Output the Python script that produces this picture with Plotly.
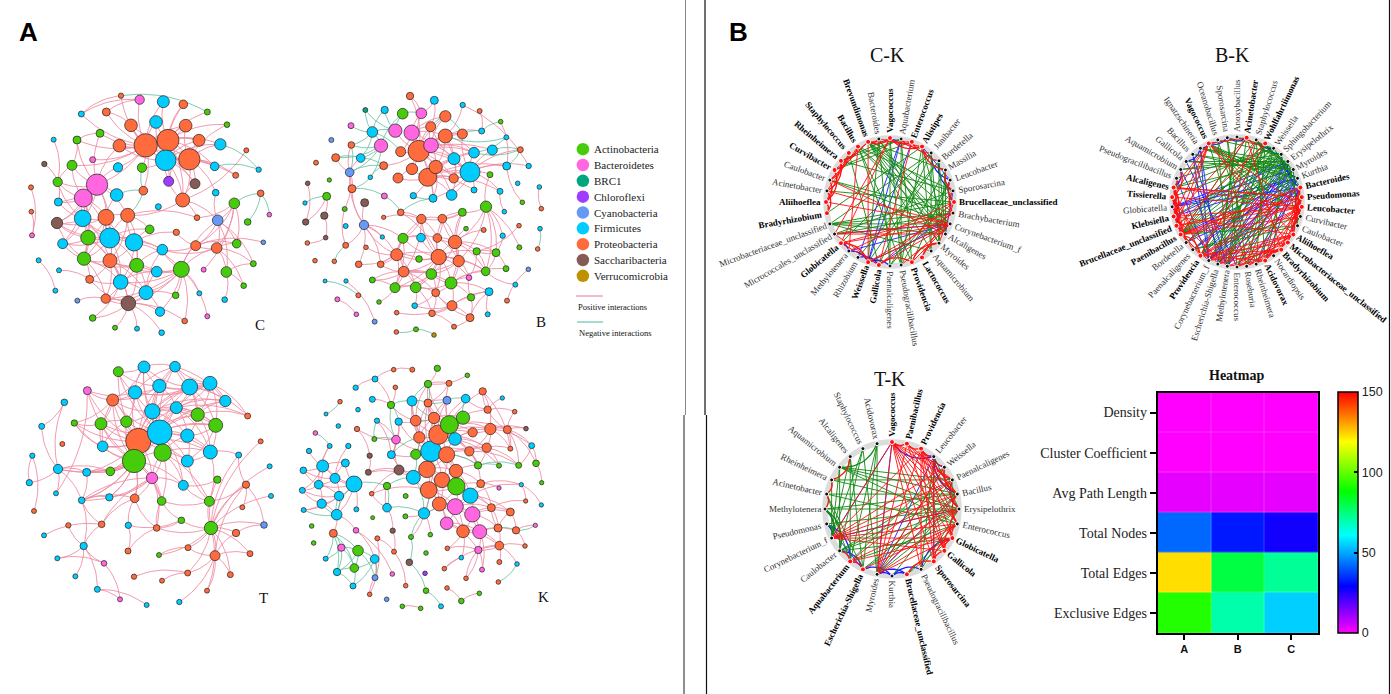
import math
import plotly.graph_objects as go

W, H = 1391, 694

PHYLA = ["Actinobacteria", "Bacteroidetes", "BRC1", "Chloroflexi", "Cyanobacteria",
         "Firmicutes", "Proteobacteria", "Saccharibacteria", "Verrucomicrobia"]
PHYLA_CODE = ["A", "B", "R", "L", "Y", "F", "P", "S", "V"]
PHYLA_COLOR = ["#46cc0a", "#ff66e0", "#00a67e", "#a03cff", "#6699f5",
               "#00ccff", "#ff6b3d", "#855c55", "#bf9000"]
PINK = "#ec7590"
TEAL = "#4fb994"

# network C: layout position, node diameter, phylum
C_X = [437,504,497,568,291,250,329,402,318,248, 383,264,548,544,410,330,252,362,438,385,
       350,393,468,557,597,661,358,490,550,419, 319,244,363,622,681,300,231,161,278,216,
       133,354,426,506,585,644,707,739,776,173, 93,175,94,171,96,430,475,647,703,782,
       808,743,591,653,449,529,188,487,587,650, 710,790,760,116,177,269,470,611,679,731,
       166,232,317,527,598,674,480,278,345,411, 485,554,622]
C_Y = [256,241,301,298,374,414,534,547,472,475, 466,533,420,628,616,602,596,666,698,730,
       405,196,186,197,241,253,257,125,133,119, 156,162,107,156,194,220,240,239,299,316,
       312,322,323,364,371,319,346,271,329,366, 382,426,455,489,526,392,440,398,430,400,
       464,486,473,481,508,517,551,569,557,564, 551,547,611,601,631,658,635,629,636,677,
       692,722,716,706,700,719,755,774,803,806, 818,783,769]
C_D = [70,66,62,64,64,54,60,52,48,50, 42,44,42,48,42,42,40,44,42,44,
       38,38,38,38,36,34,38,36,26,28, 24,18,16,18,17,24,24,15,18,30,
       16,28,28,30,30,26,18,15,16,28, 15,24,14,34,15,26,18,20,32,20,
       14,20,17,32,26,19,30,32,30,32, 26,14,18,15,15,24,32,15,32,17,
       15,15,28,20,15,17,28,20,15,15, 17,17,15]
C_P = list("PPFPBBFFPF" "PAPAAPAFFS" "FPFPPFPFPB" "PFPAAAAFBA" "SFALSFPPFA"
           "PFPSBPFFAP" "BAPYAPFFPP" "AYAFFPFBAA" "FYPAFFFAAF" "FPB")
C_POS = [(0,[1,2,3,21,22,23,26,27,29,30,35,36,41,42,43,55,24,38,39,4,31,32,44]),
         (1,[2,3,21,22,23,24,25,27,28,45,43,12,26,33,34]),
         (2,[3,21,22,23,24,25,28,45,46,12,44,43,26,42]),
         (3,[23,24,25,45,46,12,44,57,34]),
         (4,[5,8,9,20,39,41,49,53,51,36,35,26,10,6]),
         (5,[8,9,11,49,51,53,39,66,16,6]),
         (6,[7,8,9,10,11,15,16,64,53,66,14,17,67]),
         (7,[8,9,10,15,64,14,67,65,13,17]),
         (8,[9,10,11,15,16,53,20]),
         (9,[11,15,16,53,51,66,49]),
         (10,[15,14,64,62]),
         (11,[15,16,53,66,17]),
         (12,[62,44,43,63,10]),
         (13,[14,15,17,18,19,68,69,76,67,83,84,91,63,92,82,86]),
         (14,[15,16,17,18,19,67,76]),
         (15,[16,17,18,19,75,82]),
         (16,[17,66,75,53,82]),
         (17,[18,19,82,75,76,87]),
         (18,[19,76,82,86,83,67]),
         (19,[82,87,88,89,90,86,91,75]),
         (58,[63,70,68,62,69,77]),
         (63,[69,70,68,72,78,57]),
         (69,[78,70,68,79,72,67]),
         (68,[67,65,70,71]),
         (78,[79,85,72]),
         (47,[12]), (30,[21,29]), (31,[32,29]), (37,[49]), (40,[49]), (50,[54]), (52,[54]),
         (73,[80]), (74,[75]), (81,[82]), (36,[39,35]), (49,[39,51])]
C_NEG = [(32,[33]), (25,[48]), (45,[48]), (58,[59]), (59,[61,60]), (20,[55]), (55,[42,10])]

# network B
B_X = [386,413,540,365,316,273,423,466,366,437, 492,324,332,247,394,338,422,466,517,552,
       607,485,429,491,588,284,226,183,124,184, 212,137,179,78,281,241,186,118,53,110,
       45,283,224,370,164,103,47,332,281,222, 167,107,52,394,457,517,528,581,638,339,
       393,442,495,277,228,167,75,133,206,272, 320,387,446,506,560,618,688,743,750,687,
       643,754,697,748,630,683,552,600,650,716, 691,649,575,632,569,518,433,360,341,424,
       483,587,648,715,537,247,315,377,437,105, 168,205,142,199,254,267,320,374,426,486,
       543,597,676,651,593,540,492,378,319,432]
B_Y = [243,322,306,188,182,227,226,198,297,291, 266,324,245,186,130,131,170,139,192,248,
       240,375,385,325,410,120,120,167,210,225, 264,263,307,278,287,322,356,330,340,379,
       399,378,398,377,417,437,456,427,442,465, 468,503,519,447,446,427,476,480,497,505,
       503,504,516,501,532,526,572,574,583,583, 554,567,561,573,544,548,532,537,476,467,
       425,416,397,351,364,340,360,314,288,288, 239,202,183,155,123,105,91,78,605,612,
       639,604,596,598,623,630,653,652,668,633, 633,676,688,733,755,696,728,707,730,707,
       682,665,644,692,733,743,770,778,786,795]
B_D = [64,54,60,46,40,40,44,42,34,40, 36,30,30,32,32,32,30,34,30,32,
       30,32,24,28,34,22,15,18,15,20, 26,24,26,15,24,14,24,13,14,24,
       13,18,24,19,15,22,19,20,13,28, 15,14,14,28,26,24,14,15,16,30,
       26,26,40,13,14,18,14,14,20,20, 36,20,46,34,22,24,15,14,14,14,
       14,14,14,14,18,14,18,18,24,16, 18,15,18,14,15,16,24,22,32,32,
       36,26,18,14,17,18,30,32,24,12, 13,15,15,14,15,14,14,17,20,30,
       22,24,15,15,15,24,15,15,14,14]
B_P = list("PPFBBBBPPP" "FPPFBAPPPF" "FFFPAFRBYP" "FPYPPFPASA" "FBSFASSPPY"
           "FSPPPAAPFA" "FPPFPPPPPP" "PAPPAAAPFP" "FPAFFFFAFF" "PFFAPFFPPA"
           "AAAYBAAAPF" "FPBBYAPFPP" "AFFPFPPAPV")
B_POS = [(0,[1,3,4,6,7,8,9,10,11,12,14,16,17,18,19,2,21,22,23,34,20]),
         (1,[2,8,9,10,11,21,22,23,43,86,84,19,88]),
         (2,[7,9,10,18,19,20,21,22,23,86,87,88,90,84,16,89]),
         (3,[6,7,12,14,16,17]), (6,[7,16,17,9,10,19]), (7,[9,10,18,19,92]),
         (9,[10,22,23]), (10,[19,21,23]),
         (72,[53,54,59,61,62,70,71,73,74,98,99,100,101,60,104,106,107,108]),
         (62,[55,54,61,73,74,75,99,100,101,56,57]),
         (70,[53,59,68,69,98,106,107,64,71,73,49]),
         (73,[98,99,100,101,55,104]),
         (98,[99,100,106,107,105,69,108]),
         (100,[99,104,107,108,119,120,121,101,102]),
         (99,[106,107,108]),
         (119,[108,118,120,121,125,117,116]),
         (120,[121,125,104]),
         (24,[55,62,75,87,76,73,58,101]),
         (55,[54,53]),
         (49,[42,36,32,59,69,70,68,65,63]),
         (32,[30,29,31,36,44]),
         (97,[14,0]), (96,[16,14]), (95,[7,89]), (94,[92]), (93,[88]), (80,[84]), (82,[88]),
         (81,[83]), (123,[103]), (39,[46,45]), (38,[46]), (45,[51]), (51,[52]), (110,[114]),
         (112,[113]), (65,[44]), (47,[53,72]), (48,[53]), (118,[126]), (124,[121]),
         (75,[74,102,101]), (79,[74]), (58,[75]), (122,[101]),
         (53,[54,59,61,98]), (54,[61,62,55]), (59,[60,61,69,106]), (61,[62,73]), (74,[75,101,104]),
         (105,[106,98]), (106,[107,115]), (107,[108,117,118]), (108,[117,118]), (125,[121,126,108])]
B_NEG = [(13,[25,26,4,5,27,29,30,12]), (5,[15,30,29,31,32,35]), (4,[15,26,25]),
         (15,[14]), (16,[17]), (17,[18]), (91,[19,7]), (90,[19,88]), (92,[93]),
         (35,[36,34]), (36,[41]), (41,[47]), (47,[22]), (22,[43]), (32,[34]), (31,[30]),
         (29,[32]), (30,[34]), (78,[77]), (40,[39]), (109,[111]), (127,[128,129]),
         (67,[65]), (20,[90]), (18,[92])]

# network T
T_X = [415,479,402,488,457,569,630,478,405,432, 525,355,262,338,529,593,676,743,647,562,
       631,562,379,303,223,193,125,187,308,97, 174,260,331,456,550,88,168,245,328,404,
       485,102,205,305,385,470,544,628,652,716, 782,809,738,813,727,633,792,708,750,564,
       645,477,384,132,251,172,312,226,563,691, 402,486,621,292,360,440,538]
T_Y = [273,247,333,308,184,111,100,108,127,51, 50,65,122,150,173,194,153,198,226,257,
       306,333,215,221,219,157,229,282,289,317, 357,367,364,384,406,398,430,451,442,445,
       453,483,526,523,526,534,511,454,389,315, 274,349,404,438,472,534,525,549,611,593,
       617,615,603,556,588,625,640,679,669,674, 680,692,722,718,748,765,756]
T_D = [76,74,70,52,46,48,42,40,40,36, 32,30,24,36,36,40,34,18,42,40,
       42,36,34,36,19,20,18,15,32,16, 28,24,26,34,30,19,15,20,22,26,
       26,15,16,20,19,20,20,30,22,18, 15,15,22,15,15,40,20,22,18,18,
       30,15,18,15,22,15,17,15,18,18, 16,15,15,18,15,15,16]
T_P = list("PFAAFFFFFF" "FABPFAFPAF" "FFAAAFFPFF" "FFABFFFFFP" "APPPFPAAAF"
           "PFPFPAYPPP" "PAPFFFBFPP" "PPPFBFF")
T_POS = [(0,[1,2,3,4,5,7,8,13,14,15,19,22,23,24,28,32,11,12,31,33,21,18,20]),
         (1,[2,3,4,5,6,7,8,10,13,14,15,16,18,19,20,21,22,23,28,34,11,9]),
         (2,[3,4,13,22,23,24,28,31,32,33,34,38,37,39,40,30,12]),
         (3,[4,14,19,21,33,34,40,47,20]),
         (4,[5,6,7,8,9,10,13,14,15,16,18,19,22]),
         (5,[6,7,8,9,10,14,15,16,17,18]),
         (6,[7,8,10,14,15,16,17,18]),
         (7,[8,9,10,11,13,14]),
         (8,[9,10,11,13,22,12]),
         (9,[10,11,13]), (10,[15,16]),
         (14,[15,16,17,18,19,20]), (15,[16,18,19,20,17]), (18,[19,20,21]), (19,[20,21]),
         (20,[21,49,47]), (13,[22,23,24,12]), (12,[36]),
         (30,[31,32,35,36,37,25,26]), (29,[41]), (35,[29]), (37,[64,38,39,33]),
         (33,[38,39,45]), (43,[39,33,37]), (44,[39]), (45,[39,40]), (46,[45,40,44]),
         (47,[40,34,21]), (48,[34]),
         (55,[47,46,45,48,49,50,51,52,53,56,57,58,59,60,61,68,69,72]),
         (60,[57,58,59,68,69,72,76,52]), (52,[47,54,56,49]), (57,[56]),
         (62,[45]), (63,[43]), (64,[42,43,65,67,73]), (65,[66]), (66,[74,64]),
         (73,[75,74]), (70,[68]), (71,[68]), (61,[59]), (44,[62]), (25,[26]),
         (2,[37,38,30,31,32,39,40]), (33,[37,40,34,3]), (28,[22,23,24,13]), (23,[24,22]), (31,[37,32])]
T_NEG = []

# network K
K_X = [423,445,478,470,411,370,327,456,498,499, 416,541,448,496,547,470,519,569,402,192,
       98,135,86,147,95,140,166,40,37,41, 57,119,175,145,76,108,150,197,247,204,
       255,311,367,316,303,442,532,414,477,414, 366,471,527,578,593,637,674,519,432,377,
       326,261,201,388,318,253,304,377,239,235, 495,548,601,652,708,538,590,661,725,564,
       627,686,738,755,694,707,754,627,572,604, 661,736,678,624,628,705,565,514,472,628,
       576,681,625,528,463,408,421,363,358,405, 346,291,291,347,245,199,248,308,262,312,
       198,130,65,71,154,204,254,107,141,193, 255,307,189,239,290,347,408,453,337,392,
       471,514,568]
K_Y = [304,254,224,314,358,382,360,390,363,409, 420,437,462,470,493,520,544,545,490,402,
       348,385,404,438,461,494,339,361,421,480, 303,288,288,228,249,192,155,113,148,179,
       87,59,59,112,165,55,76,102,100,159, 153,151,146,124,179,144,185,203,204,212,
       215,212,237,262,269,267,314,313,317,367, 267,247,237,239,236,304,293,296,287,346,
       347,346,340,398,404,453,465,414,401,473, 486,526,541,534,587,588,600,623,595,636,
       659,642,696,685,656,609,554,561,637,670, 499,473,408,438,431,478,503,542,565,605,
       541,550,528,579,593,602,627,626,666,654, 683,672,708,733,748,707,722,769,769,775,
       714,753,730]
K_D = [62,58,54,48,50,42,30,46,40,52, 50,46,42,48,46,38,38,42,34,48,
       36,30,26,28,28,32,24,20,18,15, 16,15,16,14,14,12,14,16,18,14,
       18,14,15,14,22,19,14,22,18,24, 30,24,26,22,22,13,14,40,34,32,
       22,16,16,34,26,15,24,30,16,18, 38,28,34,24,14,28,28,15,18,22,
       15,18,20,13,13,13,13,13,24,24, 24,13,22,24,26,14,22,14,14,15,
       15,14,14,14,14,14,14,15,20,14, 15,26,22,15,14,15,12,16,15,15,
       17,24,14,14,22,32,26,15,22,26, 18,14,18,14,14,14,17,15,14,14,
       14,17,14]
K_P = list("FPAPPFSPPA" "PFPBBBPBFF" "FFFFFFFFFF" "FFFFBFPFFF" "FPPPAAAAPP"
           "FYFPPFPAPP" "FFPPBAFASS" "FPPPSPPPFA" "AAAAFPFBPP" "PBPPPPBFPP"
           "BFPPPAAASL" "AFAAPFASPP" "BPAABAFFFA" "YBFPYPAFAA" "PAA")
K_POS = [(0,[1,3,4,5,7,8,9,10,63,67,66,58,59,70,49,75,50,64,60]),
         (1,[2,3,4,57,58,59,63,70,71,72,75,76,49,51,52]),
         (2,[57,58,70,71,72,73,49,47,48,51,53,54]),
         (3,[4,7,8,9,70,75,76,79]), (4,[5,6,7,8,9,10,12]), (7,[8,9,10,11,12]),
         (8,[9,11,79,88]), (9,[10,11,12,13,88,89]), (10,[5,12,13,18,15]),
         (11,[12,13,14,89,90]), (12,[13,15,16,18]), (13,[14,15,16,17,89]),
         (14,[16,17,90,93,89]), (15,[16,17,96]), (16,[17,94,97,98]), (17,[92,93,94,96,100]),
         (19,[21,22,23,26,25,20,115]), (20,[21,22,26,27,28,30,31]), (21,[22,23,26,27,32]),
         (22,[23,24,27,28,31]), (23,[24,25,28,29]), (24,[25,28,29]), (25,[120,121]),
         (72,[71,73,74,76,77,78,75]), (73,[74,77,78,81,82,56,54]), (54,[53,55,56,52]),
         (82,[83]), (78,[82,81]), (84,[85,86]), (93,[94,89,90]), (90,[92]), (94,[95,99,96,101]),
         (41,[42]), (40,[41,44]), (37,[40]), (43,[44]), (38,[44]),
         (61,[64,66]), (64,[66,62]), (62,[68]), (68,[69]), (69,[6,5]), (5,[66]), (6,[64]),
         (60,[64,66]), (111,[112,114,117]), (117,[119]), (118,[119]), (119,[135]),
         (120,[126,131]), (126,[130]), (133,[130]), (118,[133]), (98,[96]), (103,[96]),
         (104,[94,97]), (46,[47]), (47,[48]), (48,[49]), (45,[47]), (140,[141]), (141,[142]),
         (138,[139]), (114,[10,6]),
         (70,[57,71,72,75,76,79,80]), (75,[76,79,88,81]), (76,[79,80,81,77]), (63,[58,59,67,49,50]),
         (58,[59,49,47,51,57]), (59,[60,50,47,44]), (11,[88,84]), (18,[110,106,107]),
         (88,[89,84,87]), (89,[90,93,85]), (92,[91,95]), (96,[94,100,103]), (53,[72,77]), (49,[51])]
K_NEG = [(25,[24,23,19,29]), (121,[124,125,128,127,129]), (124,[125,127,128,129]),
         (125,[126,129,128,130]), (126,[129,130,132]), (128,[129,132]), (129,[132]),
         (108,[136]), (136,[137]), (36,[35]), (34,[31]), (19,[112]), (112,[5,111]), (111,[18]),
         (5,[18]), (107,[18,108]), (44,[60,50]), (50,[47,49]), (63,[67]), (66,[63]), (67,[5]),
         (65,[64,61]), (57,[52]), (51,[52,49]), (47,[49]), (79,[80,81]), (3,[79]),
         (101,[102]), (93,[92]), (91,[92]), (64,[44]), (58,[50,59]), (10,[18]), (12,[18])]

# differential networks, clockwise from the top
CK_LABELS = ["Vagococcus","Aquabacterium","Enterococcus","Alistipes","Janibacter","Bordetella",
             "Massilia","Leucobacter","Sporosarcina","Brucellaceae_unclassified","Brachybacterium",
             "Corynebacterium_f","Alcaligenes","Myroides","Aquamicrobium","Lactococcus","Providencia",
             "Pseudogracilibacillus","Paenalcaligenes","Gallicola","Weissella","Rhizobium","Methylotenera",
             "Globicatella","Micrococcales_unclassified","Microbacteriaceae_unclassified","Bradyrhizobium",
             "Aliihoeflea","Acinetobacter","Caulobacter","Curvibacter","Rheinheimera","Staphylococcus",
             "Bacillus","Brevundimonas","Bacteroides"]
CK_BOLD = [0,2,3,9,15,16,19,20,23,26,27,30,31,32,33,34]
CK_RED = [(34,29),(34,30),(33,28),(33,31),(32,30),(32,27),(31,29),(30,27),(27,26),(27,29),(26,28),
          (28,31),(34,0),(34,2),(0,3),(2,0),(1,3),(2,4),(35,3),(34,35),(0,24),(0,23),(34,20),(2,19),
          (33,22),(11,23),(11,24),(10,23),(9,22),(9,19),(11,20),(11,19),(10,20),(9,15),(9,13),(16,13),
          (15,13),(16,19),(19,23),(23,20),(24,19),(12,24),(11,16),(11,17),(8,10),(8,6),(9,7),(3,5),
          (3,6),(29,12),(27,11),(28,11)]
CK_GREEN = [(34,9),(34,10),(34,11),(34,12),(34,13),(34,6),(34,14),(33,12),(33,11),(33,16),(33,17),
            (33,8),(35,13),(35,12),(35,18),(35,20),(29,10),(29,11),(28,9),(25,11),(25,12),(25,10),
            (25,9),(25,14),(24,8),(24,10),(25,4),(23,4),(0,18),(0,17),(1,16),(1,17),(3,17),(3,14),
            (3,12),(4,13),(4,14),(5,12),(5,13),(6,12),(6,13),(30,1),(30,2),(31,0),(31,8),(31,1),
            (32,19),(26,3),(19,4),(20,5),(21,5),(16,7),(17,7),(18,6),(18,8)]
CK_BLUE = [(0,1),(1,21),(1,20),(2,20),(3,7),(4,7),(5,8),(7,9),(8,12),(11,24),(11,20),(11,22),
           (20,22),(23,22),(20,18),(21,19),(10,19)]

BK_LABELS = ["Anoxybacillus","Acinetobacter","Staphylococcus","Wohlfahrtiimonas","Weissella",
             "Sphingobacterium","Erysipelothrix","Myroides","Kurthia","Bacteroides","Pseudomonas",
             "Leucobacter","Curvibacter","Caulobacter","Aliihoeflea","Microbacteriaceae_unclassified",
             "Bradyrhizobium","Nocardiopsis","Acidovorax","Rheinheimera","Roseburia","Enterococcus",
             "Methylotenera","Escherichia-Shigella","Corynebacterium_f","Providencia","Paenalcaligenes",
             "Bordetella","Paenibacillus","Brucellaceae_unclassified","Klebsiella","Globicatella",
             "Tissierella","Alcaligenes","Pseudogracilibacillus","Aquamicrobium","Gallicola","Bacillus",
             "Ignatzschineria","Vagococcus","Oceanobacillus","Sporosarcina"]
BK_BOLD = [1,3,9,10,11,14,15,16,18,25,28,29,30,32,33,39]
BK_RED = [(39,33),(39,30),(39,28),(39,32),(39,29),(39,1),(1,3),(1,39),(1,30),(33,30),(33,29),(33,28),
          (32,30),(32,29),(32,28),(30,28),(30,29),(29,28),(33,27),(32,27),(30,26),(28,25),(29,25),
          (28,24),(33,25),(32,23),(30,22),(25,16),(25,15),(25,14),(25,18),(25,11),(25,10),(25,9),
          (28,9),(28,10),(28,11),(28,12),(29,11),(29,10),(30,11),(30,14),(32,11),(33,11),(33,10),
          (39,14),(39,15),(1,16),(1,28),(3,29),(3,25),(24,14),(24,11),(24,16),(23,16),(23,11),
          (23,14),(22,15),(22,18),(21,16),(21,14),(21,11),(20,14),(20,16),(19,15),(19,11),(18,14),
          (18,11),(18,16),(16,11),(16,9),(15,11),(15,10),(14,11),(14,10),(14,9),(11,9),(11,10),
          (10,9),(12,10),(13,10),(33,34),(32,35),(30,31),(31,33),(9,28),(11,39),(10,33),(25,2)]
BK_GREEN = [(39,10),(39,12),(39,13),(39,20),(39,9),(38,8),(38,7),(38,6),(37,7),(37,8),(36,6),(36,7),
            (35,6),(35,5),(34,4),(28,7),(28,6),(28,5),(28,4),(28,3),(28,2),(28,1),(28,13),(27,6),
            (27,7),(26,13),(26,12),(26,6),(25,3),(25,5),(25,6),(24,4),(24,5),(23,3),(23,8),(23,0),
            (22,2),(22,4),(21,5),(21,7),(20,6),(20,4),(19,3),(19,7),(18,6),(18,2),(17,5),(41,21),
            (41,20),(40,19),(40,22),(0,23),(0,4),(2,5),(2,7),(4,9),(5,13),(6,12),(7,13),(13,12),
            (1,22),(3,22),(41,4),(40,5),(33,4),(33,6),(32,5),(30,5),(29,4)]
BK_BLUE = [(38,23),(38,24),(37,24),(37,22),(36,21),(35,22),(34,24),(31,8),(31,7),(31,6),(31,9),
           (30,8),(30,6),(28,8),(27,5),(27,9),(26,8),(26,7),(25,7),(24,6),(24,7),(24,8),(24,9),
           (23,6),(23,7),(23,9),(22,8),(22,6),(21,8),(20,9),(19,8),(18,8),(41,39),(41,1),(0,1),
           (2,4),(3,5),(5,8),(6,9),(9,12),(12,14),(39,38),(38,36),(35,33),(32,31),(31,29)]

TK_LABELS = ["Vagococcus","Paenibacillus","Providencia","Leucobacter","Weissella","Paenalcaligenes",
             "Bacillus","Erysipelothrix","Enterococcus","Globicatella","Gallicola","Sporosarcina",
             "Pseudogracilibacillus","Brucellaceae_unclassified","Kurthia","Myroides",
             "Escherichia-Shigella","Aquabacterium","Caulobacter","Corynebacterium_f","Pseudomonas",
             "Methylotenera","Acinetobacter","Rheinheimera","Aquamicrobium","Alcaligenes",
             "Staphylococcus","Acidovorax"]
TK_BOLD = [0,1,2,9,10,11,13,16,17]
TK_RED = [(0,4),(0,5),(0,6),(0,7),(0,8),(0,9),(0,10),(0,11),(0,12),(0,1),(1,2),(1,5),(1,6),(1,8),
          (1,10),(2,3),(2,6),(2,7),(2,8),(2,9),(2,10),(2,11),(3,5),(4,6),(5,7),(6,8),(7,9),(8,9),
          (8,10),(9,10),(9,11),(10,11),(19,0),(19,2),(19,4),(19,5),(19,6),(19,7),(19,8),(19,9),
          (19,10),(15,0),(15,1),(15,2),(15,4),(15,6),(15,8),(15,9),(17,7),(17,9),(17,5),(16,8),
          (23,22),(23,25),(22,21),(12,2),(11,3),(13,11),(18,17),(17,16)]
TK_GREEN = [(27,15),(27,16),(27,17),(26,15),(26,18),(25,17),(25,16),(24,5),(24,6),(24,7),(24,8),
            (24,18),(23,5),(23,7),(23,19),(22,6),(22,8),(22,17),(22,16),(21,6),(21,7),(21,19),
            (21,18),(20,7),(20,18),(18,5),(18,6),(18,7),(18,9),(17,4),(17,8),(16,6),(16,7),(15,4),
            (15,5),(15,7),(14,6),(19,26),(19,24),(19,25),(13,8),(13,9),(12,7),(12,3),(6,4),(6,5),
            (7,3),(27,24)]
TK_BLUE = [(0,3),(2,3),(3,4),(3,5),(15,3),(15,0),(19,0),(19,7),(19,20),(21,19),(20,17),(18,16),
           (17,16),(16,14),(15,14),(14,12),(14,13),(13,15),(15,6),(6,3),(7,5),(11,3),(12,9),(20,16)]

# heatmap
HEAT_ROWS = ["Density", "Cluster Coefficient", "Avg Path Length", "Total Nodes", "Total Edges", "Exclusive Edges"]
HEAT_COLS = ["A", "B", "C"]
HEAT_Z = [[0, 0, 0], [0, 0, 0], [3, 3, 3], [42, 32, 27], [123, 81, 72], [92, 70, 55]]
HEAT_COLORS = [[0, "#ff00ff"], [29/150, "#0000ff"], [61/150, "#00ffff"],
               [88/150, "#00ff00"], [119/150, "#ffff00"], [1, "#ff0000"]]

# rough serif letter widths, to push rotated labels out past the ring
WIDE_REGULAR = dict(zip("abcdefghijklmnopqrstuvwxyz_-",
                        [.444,.5,.444,.5,.444,.333,.5,.5,.278,.278,.5,.278,.778,.5,.5,.5,.5,.333,.389,.278,.5,.5,.722,.5,.5,.444,.5,.333]))
WIDE_BOLD = dict(zip("abcdefghijklmnopqrstuvwxyz_-",
                     [.5,.556,.444,.556,.444,.333,.5,.556,.278,.333,.556,.278,.833,.556,.5,.556,.556,.444,.389,.333,.556,.5,.722,.5,.5,.444,.5,.333]))


def px(x):
    return x / W


def py(y):
    return 1 - y / H


def expand(groups):
    return [(a, b) for a, targets in groups for b in targets]


def label_width(text, size, is_bold):
    table = WIDE_BOLD if is_bold else WIDE_REGULAR
    return size * sum(table.get(ch, 0.68) for ch in text)


def curve_xy(xs, ys, pairs, bend, steps=12):
    # one quadratic curve per edge, None between them
    out_x, out_y = [], []
    for a, b in pairs:
        x0, y0, x1, y1 = xs[a], ys[a], xs[b], ys[b]
        cx = (x0 + x1) / 2 + bend * (y1 - y0)
        cy = (y0 + y1) / 2 - bend * (x1 - x0)
        for i in range(steps + 1):
            t = i / steps
            out_x.append((1-t)**2 * x0 + 2*t*(1-t) * cx + t**2 * x1)
            out_y.append((1-t)**2 * y0 + 2*t*(1-t) * cy + t**2 * y1)
        out_x.append(None)
        out_y.append(None)
    return out_x, out_y


fig = go.Figure()
layout = {}
axis_no = 0


def new_axes(left, top, right, bottom, xrange, yrange):
    global axis_no
    axis_no += 1
    n = "" if axis_no == 1 else str(axis_no)
    layout["xaxis" + n] = dict(domain=[px(left), px(right)], range=xrange, visible=False,
                               anchor="y" + n, fixedrange=True)
    layout["yaxis" + n] = dict(domain=[py(bottom), py(top)], range=yrange, visible=False,
                               anchor="x" + n, fixedrange=True)
    return "x" + n, "y" + n


def add_network(xs, ys, ds, ps, pos, neg, box, tag):
    assert len(xs) == len(ys) == len(ds) == len(ps), tag
    left, top, scale_w, scale_h = box
    xa, ya = new_axes(left, top, left + scale_w / 3, top + scale_h / 3, [0, scale_w], [scale_h, 0])
    for pairs, colour in [(expand(pos), PINK), (expand(neg), TEAL)]:
        if not pairs:
            continue
        ex, ey = curve_xy(xs, ys, pairs, 0.17)
        fig.add_trace(go.Scatter(x=ex, y=ey, mode="lines", xaxis=xa, yaxis=ya, hoverinfo="skip",
                                 line=dict(color=colour, width=0.85), opacity=0.85, showlegend=False))
    fig.add_trace(go.Scatter(x=xs, y=ys, mode="markers", xaxis=xa, yaxis=ya, showlegend=False,
                             marker=dict(size=[d / 3 for d in ds], opacity=1,
                                         color=[PHYLA_COLOR[PHYLA_CODE.index(p)] for p in ps],
                                         line=dict(color="#222222", width=0.7))))


add_network(C_X, C_Y, C_D, C_P, C_POS, C_NEG, (0, 60, 900, 870), "C")
add_network(B_X, B_Y, B_D, B_P, B_POS, B_NEG, (290, 70, 1200, 840), "B")
add_network(T_X, T_Y, T_D, T_P, T_POS, T_NEG, (0, 350, 870, 810), "T")
add_network(K_X, K_Y, K_D, K_P, K_POS, K_NEG, (290, 350, 810, 810), "K")

annotations = []
shapes = []


def note(x, y, text, size, family="Liberation Serif", color="#111111", bold=False, anchor="center"):
    annotations.append(dict(x=px(x), y=py(y), xref="paper", yref="paper", showarrow=False,
                            text="<b>%s</b>" % text if bold else text, xanchor=anchor, yanchor="middle",
                            font=dict(size=size, family=family, color=color)))


def add_chord(labels, bold, red, green, blue, cx, cy, radius):
    half = 140
    span = half / radius
    xa, ya = new_axes(cx - half, cy - half, cx + half, cy + half, [-span, span], [span, -span])
    n = len(labels)
    degs = [-90 + i * 360 / n for i in range(n)]
    xs = [math.cos(math.radians(d)) for d in degs]
    ys = [math.sin(math.radians(d)) for d in degs]
    shapes.append(dict(type="circle", xref=xa, yref=ya, x0=-1, x1=1, y0=-1, y1=1, layer="below",
                       line=dict(color="#dcdcdc", width=5.5)))
    for pairs, colour in [(blue, "#1a1aff"), (green, "#118811"), (red, "#ff1111")]:
        near, far = [], []
        for a, b in pairs:
            step = (b - a) % n
            if min(step, n - step) > 3:
                far.append((a, b))
            elif step <= n / 2:
                near.append((b, a))  # counterclockwise, so the curve bends into the circle
            else:
                near.append((a, b))
        ex, ey = curve_xy(xs, ys, far, 0, steps=1)
        fig.add_trace(go.Scatter(x=ex, y=ey, mode="lines", xaxis=xa, yaxis=ya, hoverinfo="skip",
                                 line=dict(color=colour, width=0.9), showlegend=False))
        ex, ey = curve_xy(xs, ys, near, 0.35)
        fig.add_trace(go.Scatter(x=ex, y=ey, mode="lines", xaxis=xa, yaxis=ya, hoverinfo="skip",
                                 line=dict(color=colour, width=1.3), showlegend=False))
    colours = ["#ff1111" if i in bold else "#111111" for i in range(n)]
    fig.add_trace(go.Scatter(x=xs, y=ys, mode="markers", xaxis=xa, yaxis=ya, showlegend=False,
                             marker=dict(size=[5 if i in bold else 4 for i in range(n)], color=colours, opacity=1)))
    for i, label in enumerate(labels):
        c, s = xs[i], ys[i]
        angle = degs[i] if c >= -1e-6 else degs[i] - 180
        is_bold = i in bold
        size = 9
        dist = (radius + 5 + label_width(label, size, is_bold) / 2) / radius
        annotations.append(dict(
            x=dist * c, y=dist * s, xref=xa, yref=ya, showarrow=False, textangle=angle,
            text="<b>%s</b>" % label if is_bold else label, xanchor="center", yanchor="middle",
            font=dict(size=size, family="Liberation Serif", color="#000000" if is_bold else "#333333")))


add_chord(CK_LABELS, CK_BOLD, CK_RED, CK_GREEN, CK_BLUE, 890, 202, 64)
add_chord(BK_LABELS, BK_BOLD, BK_RED, BK_GREEN, BK_BLUE, 1237, 202, 65)
add_chord(TK_LABELS, TK_BOLD, TK_RED, TK_GREEN, TK_BLUE, 892, 509, 67)

# heatmap with its colour bar
axis_no += 1
hx, hy = "x%d" % axis_no, "y%d" % axis_no
layout["xaxis%d" % axis_no] = dict(domain=[px(1157.5), px(1318)], anchor=hy, showline=True, mirror=True,
                                   linecolor="black", linewidth=1.5, ticks="outside", ticklen=5, tickwidth=1.5,
                                   tickcolor="black", fixedrange=True,
                                   tickfont=dict(family="Liberation Sans", size=11, color="#111111", weight="bold"))
layout["yaxis%d" % axis_no] = dict(domain=[py(633), py(392.5)], anchor=hx, autorange="reversed", showline=True,
                                   mirror=True, linecolor="black", linewidth=1.5, ticks="outside", ticklen=6,
                                   tickwidth=1.5, tickcolor="black", fixedrange=True,
                                   tickfont=dict(family="Liberation Serif", size=14, color="#222222"))
fig.add_trace(go.Heatmap(z=HEAT_Z, x=HEAT_COLS, y=HEAT_ROWS, xaxis=hx, yaxis=hy, zmin=0, zmax=150, xgap=0.2, ygap=0.2,
                         colorscale=HEAT_COLORS,
                         colorbar=dict(x=px(1338), xanchor="left", xpad=0, y=py(633), yanchor="bottom", ypad=0,
                                       lenmode="pixels", len=240.5, thicknessmode="pixels", thickness=20,
                                       outlinecolor="black", outlinewidth=1.5, tickvals=[0, 50, 100, 150],
                                       ticks="inside", ticklen=4, tickwidth=1.5, tickcolor="black",
                                       tickfont=dict(family="Liberation Sans", size=12.5, color="#222222"))))

# phylum legend
lx, ly = new_axes(570, 140, 600, 285, [0, 1], [len(PHYLA) - 0.42, -0.58])
fig.add_trace(go.Scatter(x=[0.43] * len(PHYLA), y=list(range(len(PHYLA))), mode="markers", xaxis=lx, yaxis=ly,
                         showlegend=False, marker=dict(size=12.5, color=PHYLA_COLOR, opacity=1)))
for i, name in enumerate(PHYLA):
    annotations.append(dict(x=0.72, y=i, xref=lx, yref=ly, text=name, showarrow=False, xanchor="left",
                            font=dict(size=11, family="Liberation Serif", color="#222222")))

note(28, 32, "A", 26, family="Liberation Sans", color="black", bold=True)
note(738, 32, "B", 26, family="Liberation Sans", color="black", bold=True)
note(887, 55, "C-K", 20)
note(1232, 55, "B-K", 20)
note(890, 379, "T-K", 20)
note(1236, 376, "Heatmap", 14, bold=True)
note(260, 325, "C", 15)
note(541, 322, "B", 15)
note(263, 598, "T", 15)
note(543, 597, "K", 15)
note(576, 307, "Positive interactions", 8.5, anchor="left")
note(577, 333, "Negative interactions", 8.5, anchor="left")

for x0, x1, y0, y1, colour, width in [(576, 603, 296, 296, PINK, 1), (577, 603, 322, 322, TEAL, 1),
                                      (685.5, 685.5, 0, 415, "#888888", 1), (684, 684, 415, 694, "#444444", 1.2),
                                      (705, 705, 0, 415, "#111111", 1.2), (706.5, 706.5, 415, 694, "#111111", 1.2),
                                      (1389.5, 1389.5, 0, 694, "#111111", 1.2)]:
    shapes.append(dict(type="line", xref="paper", yref="paper", x0=px(x0), x1=px(x1), y0=py(y0), y1=py(y1),
                       line=dict(color=colour, width=width)))

fig.update_layout(width=W, height=H, margin=dict(l=0, r=0, t=0, b=0), paper_bgcolor="white", plot_bgcolor="white",
                  showlegend=False, annotations=annotations, shapes=shapes, **layout)
fig.write_html("out.html", config=dict(displayModeBar=False),
               post_script="document.body.style.margin='0';document.body.style.overflow='hidden';")
